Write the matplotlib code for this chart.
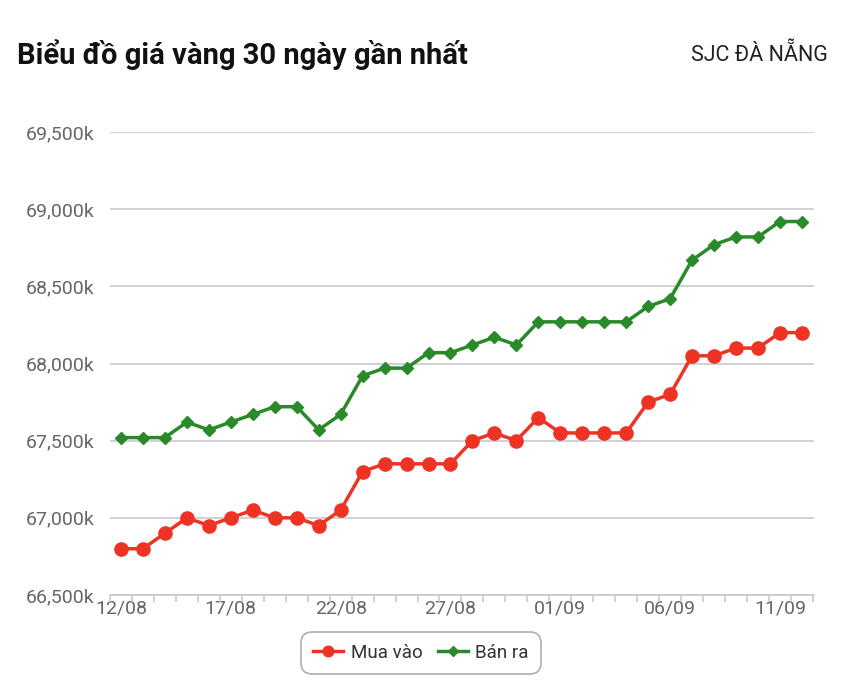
import numpy as np
import matplotlib
matplotlib.use("Agg")
from matplotlib import pyplot as plt
from matplotlib.ticker import FuncFormatter

plt.rcParams['font.family'] = ['Roboto', 'DejaVu Sans']

dates = ['12/08', '13/08', '14/08', '15/08', '16/08', '17/08', '18/08', '19/08',
         '20/08', '21/08', '22/08', '23/08', '24/08', '25/08', '26/08', '27/08',
         '28/08', '29/08', '30/08', '31/08', '01/09', '02/09', '03/09', '04/09',
         '05/09', '06/09', '07/09', '08/09', '09/09', '10/09', '11/09', '12/09']
mua_vao = [66800, 66800, 66900, 67000, 66950, 67000, 67050, 67000,
           67000, 66950, 67050, 67300, 67350, 67350, 67350, 67350,
           67500, 67550, 67500, 67650, 67550, 67550, 67550, 67550,
           67750, 67800, 68050, 68050, 68100, 68100, 68200, 68200]
ban_ra = [67520, 67520, 67520, 67620, 67570, 67620, 67670, 67720,
          67720, 67570, 67670, 67920, 67970, 67970, 68070, 68070,
          68120, 68170, 68120, 68270, 68270, 68270, 68270, 68270,
          68370, 68420, 68670, 68770, 68820, 68820, 68920, 68920]
y_ticks = [66500, 67000, 67500, 68000, 68500, 69000, 69500]

W, H = 847, 695
fig = plt.figure(figsize=(W / 100, H / 100), dpi=100)
ax = fig.add_axes([110 / W, (H - 595) / H, (814 - 110) / W, (595 - 132) / H])

x = np.arange(len(dates))
ax.plot(x, mua_vao, color='#ee3325', lw=2.5, marker='o', ms=9.5,
        mec='#ee3325', label='Mua vào', zorder=3, clip_on=False)
ax.plot(x, ban_ra, color='#2a8a2a', lw=2.5, marker='D', ms=6.5,
        mec='#2a8a2a', label='Bán ra', zorder=3, clip_on=False)

ax.set_xlim(-0.45, len(dates) - 0.45)
ax.set_ylim(66500, 69500)
ax.set_yticks(y_ticks)
ax.yaxis.set_major_formatter(FuncFormatter(lambda v, p: f"{int(v):,}k"))
ax.grid(axis='y', color='#c8c8d0', lw=1.2)
ax.set_axisbelow(True)

ax.set_xticks(x[::5])
ax.set_xticklabels(dates[::5])
ax.set_xticks(np.arange(len(dates) + 1) - 0.5, minor=True)
ax.tick_params(axis='x', which='major', length=0, pad=3, labelsize=14, colors='#666666')
ax.tick_params(axis='x', which='minor', length=5, color='#c8c8d0', width=1.2)
ax.tick_params(axis='y', length=0, pad=11, labelsize=14, colors='#666666')

for s in ['top', 'right', 'left']:
    ax.spines[s].set_visible(False)
ax.spines['bottom'].set_color('#c8c8d0')
ax.spines['bottom'].set_linewidth(1.2)

fig.text(17 / W, 1 - 55 / H, 'Biểu đồ giá vàng 30 ngày gần nhất', fontsize=21,
         fontweight='bold', va='center', ha='left', color='#111111')
fig.text(828 / W, 1 - 55 / H, 'SJC ĐÀ NẴNG', fontsize=15.5, va='center', ha='right',
         color='#222222')

leg = fig.legend(loc='center', bbox_to_anchor=(421 / W, 1 - 653 / H), ncol=2,
                 frameon=True, fontsize=13.5, handlelength=1.6, columnspacing=0.8,
                 handletextpad=0.4, borderpad=0.45, markerscale=0.8)
leg.get_frame().set_edgecolor('#999999')
leg.get_frame().set_linewidth(1.2)
leg.get_frame().set_boxstyle('round,pad=0.2,rounding_size=0.6')
for t in leg.get_texts():
    t.set_color('#333333')

fig.savefig('out.png', dpi=100)
